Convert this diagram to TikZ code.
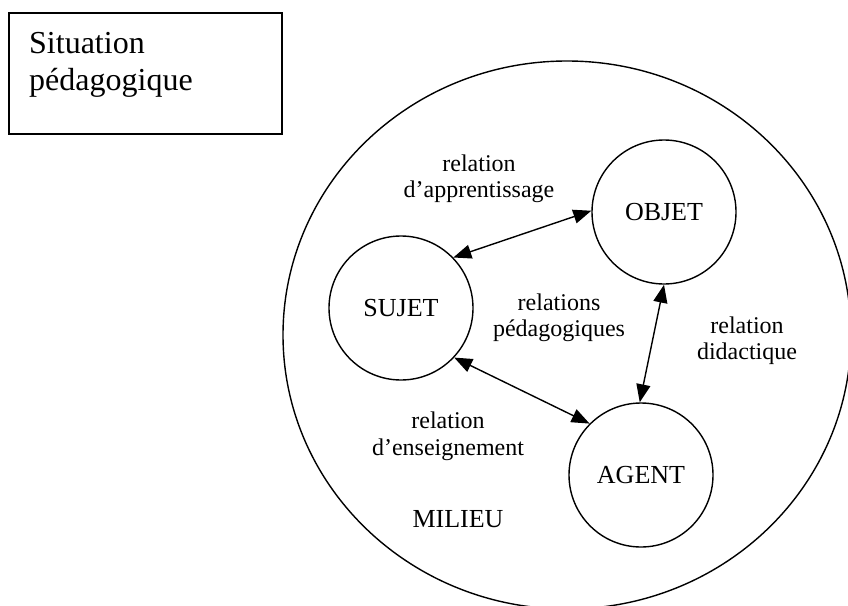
\documentclass[tikz,border=0pt]{standalone}
\usepackage{fontspec}
\setmainfont{Liberation Serif}
\usetikzlibrary{arrows.meta,shapes.geometric}
\begin{document}
\begin{tikzpicture}[x=1pt,y=-1pt,
  lbl/.style={font=\fontsize{24}{27}\selectfont, anchor=base, inner sep=0},
  entity/.style={draw, circle, line width=1.4pt, minimum size=144pt, inner sep=0,
    font=\fontsize{26}{29}\selectfont},
  rel/.style={line width=1.4pt,
    {Triangle[length=18pt,width=14pt]}-{Triangle[length=18pt,width=14pt]}}]
\clip (0,0) rectangle (848,605);
\fill[white] (0,0) rectangle (848,605);
% frame with title
\node[draw, line width=1.5pt, anchor=north west, minimum width=273pt,
  minimum height=121pt, inner sep=0] (box) at (8,12) {};
\node[font=\fontsize{32}{36}\selectfont, anchor=base west, inner sep=0] (t1) at (29,53) {Situation};
\node[font=\fontsize{32}{36}\selectfont, anchor=base west, inner sep=0] (t2) at (29,90) {pédagogique};
% milieu
\node[draw, ellipse, line width=1.4pt, minimum width=568pt, minimum height=548pt,
  inner sep=0] (milieu) at (567,335) {};
% entities
\node[entity] (S) at (401,308) {SUJET};
\node[entity] (O) at (664,212) {OBJET};
\node[entity] (A) at (641,475) {AGENT};
% relations
\draw[rel] (S.44) -- (O.179);
\draw[rel] (S.-43) -- (A.135);
\draw[rel] (O.-90) -- (A.91);
% labels
\node[lbl] (l1a) at (479,171) {relation};
\node[lbl] (l1b) at (479,197) {d’apprentissage};
\node[lbl] (l2a) at (559,310) {relations};
\node[lbl] (l2b) at (559,336) {pédagogiques};
\node[lbl] (l3a) at (747,333) {relation};
\node[lbl] (l3b) at (747,359) {didactique};
\node[lbl] (l4a) at (448,428) {relation};
\node[lbl] (l4b) at (448,455) {d’enseignement};
\node[font=\fontsize{26}{29}\selectfont, anchor=base, inner sep=0] (mil) at (458,527) {MILIEU};
\end{tikzpicture}
\end{document}
